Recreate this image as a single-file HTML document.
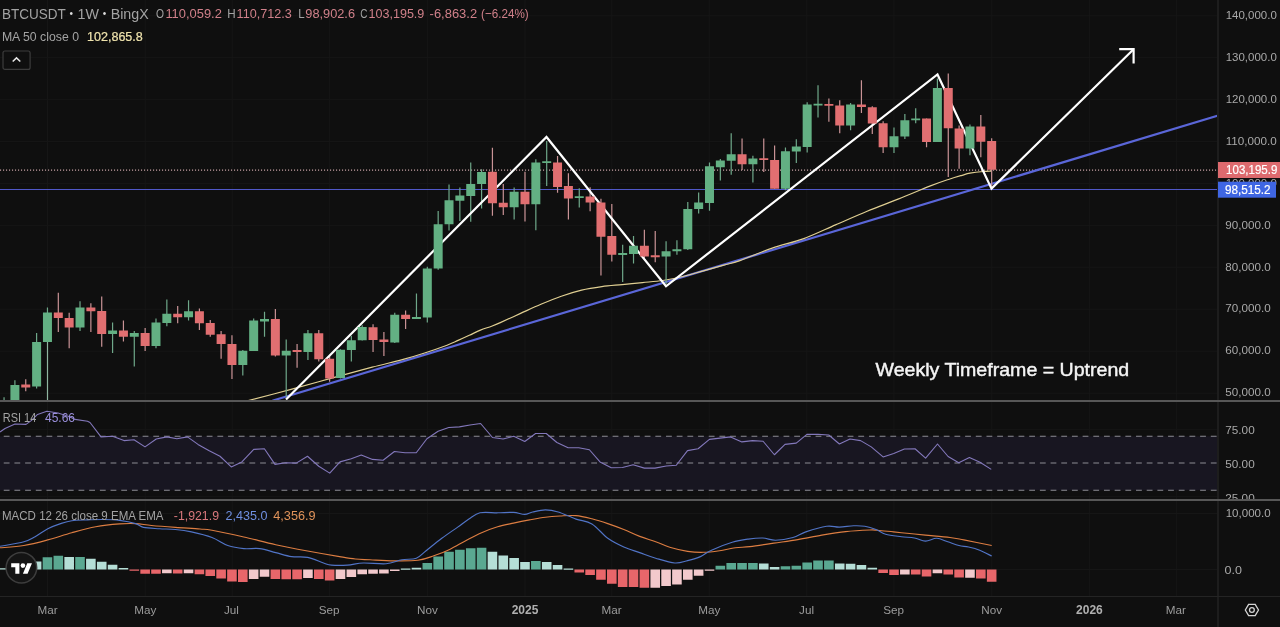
<!DOCTYPE html><html><head><meta charset="utf-8"><title>BTCUSDT 1W BingX</title><style>
html,body{margin:0;padding:0;background:#0f0f0f;}body{width:1280px;height:627px;overflow:hidden;position:relative;font-family:"Liberation Sans", sans-serif;}
svg{position:absolute;left:0;top:0;display:block;will-change:transform;}
svg text{font-family:"Liberation Sans", sans-serif;}
</style></head><body>
<svg width="1280" height="627" viewBox="0 0 1280 627">
<defs><clipPath id="cm"><rect x="0" y="0" width="1217" height="400"/></clipPath><clipPath id="cr"><rect x="0" y="402" width="1217" height="97"/></clipPath><clipPath id="cd"><rect x="0" y="501" width="1217" height="95"/></clipPath></defs>
<rect x="0" y="0" width="1280" height="627" fill="#0f0f0f"/>
<path d="M47.5 0V400M47.5 402V499M47.5 501V596M145.2 0V400M145.2 402V499M145.2 501V596M232.1 0V400M232.1 402V499M232.1 501V596M329.4 0V400M329.4 402V499M329.4 501V596M427.4 0V400M427.4 402V499M427.4 501V596M525 0V400M525 402V499M525 501V596M611.7 0V400M611.7 402V499M611.7 501V596M709.2 0V400M709.2 402V499M709.2 501V596M806.8 0V400M806.8 402V499M806.8 501V596M893.9 0V400M893.9 402V499M893.9 501V596M991.7 0V400M991.7 402V499M991.7 501V596M1089.6 0V400M1089.6 402V499M1089.6 501V596M1176.4 0V400M1176.4 402V499M1176.4 501V596M0 393.1H1217M0 351.17H1217M0 309.24H1217M0 267.32H1217M0 225.39H1217M0 183.46H1217M0 141.53H1217M0 99.6H1217M0 57.68H1217M0 15.75H1217M0 429.6H1217M0 463H1217M0 496.4H1217M0 513.5H1217M0 569.5H1217" stroke="#161616" stroke-width="1" fill="none"/>
<g clip-path="url(#cm)">
<path d="M0 189.5H1217" stroke="#5058c8" stroke-width="1.1"/>
<path d="M0 170.1H1217" stroke="#c9a3a6" stroke-width="1.1" stroke-dasharray="1.1 1.9"/>
<path d="M273 400.5L1218 115.6" stroke="#5a66d8" stroke-width="2.2" stroke-linecap="round"/>
<path d="M248.3 400.5C255.42 398.65 277.12 393.12 291 389.4C304.88 385.68 318.07 381.9 331.6 378.2C345.13 374.5 360.42 370.28 372.2 367.2C383.98 364.12 393.57 362.07 402.3 359.7C411.03 357.33 417.15 355.42 424.6 353C432.05 350.58 441.42 347.3 447 345.2C452.58 343.1 454.38 342.05 458.1 340.4C461.82 338.75 465.58 337.02 469.3 335.3C473.02 333.58 476.68 331.62 480.4 330.1C484.12 328.58 488.28 327.45 491.6 326.2C494.92 324.95 495.47 324.73 500.3 322.6C505.13 320.47 513.83 316.45 520.6 313.4C527.37 310.35 534.12 307.17 540.9 304.3C547.68 301.43 554.52 298.57 561.3 296.2C568.08 293.83 574.83 291.7 581.6 290.1C588.37 288.5 595.13 287.52 601.9 286.6C608.67 285.68 615.43 285.27 622.2 284.6C628.97 283.93 635.73 283.28 642.5 282.6C649.27 281.92 656.03 281.52 662.8 280.5C669.57 279.48 676.33 278.12 683.1 276.5C689.87 274.88 696.62 272.7 703.4 270.8C710.18 268.9 717.7 266.8 723.8 265.1C729.9 263.4 731.93 263.43 740 260.6C748.07 257.77 761.57 251.77 772.2 248.1C782.83 244.43 793.25 242.47 803.8 238.6C814.35 234.73 824.95 229.47 835.5 224.9C846.05 220.33 856.57 215.53 867.1 211.2C877.63 206.87 888.15 203.12 898.7 198.9C909.25 194.68 921.98 189.18 930.4 185.9C938.82 182.62 943.93 180.97 949.2 179.2C954.47 177.43 958.53 176.3 962 175.3C965.47 174.3 966.48 173.83 970 173.2C973.52 172.57 979.52 171.85 983.1 171.5C986.68 171.15 990.1 171.17 991.5 171.1" fill="none" stroke="#e0cf92" stroke-width="1.2"/>
<path d="M4.05 397.3V405M14.9 380.2V405M36.61 332.9V388.4M47.46 307.4V342.1M80.02 301.3V331M112.58 322.4V353M134.28 331V366.4M155.99 318.5V348.2M166.84 299.4V326.2M188.55 300.3V320.4M242.81 350.1V375.4M253.67 318.5V351.1M264.52 311.8V336.7M286.22 339.6V397M307.93 330V360.1M340.49 349.2V378.5M351.34 335.8V361.6M362.2 325.2V340.6M394.75 312.8V343.1M416.46 293.6V318.9M427.31 266.8V322.4M438.17 210.9V269.7M449.02 184.5V230.5M459.87 187.4V220.9M470.73 162.5V221.8M481.58 169.2V208.4M514.14 187.4V219.6M535.84 159.3V230.2M546.7 141.1V186.1M579.26 188.2V207.4M622.67 244.7V282.1M633.52 236.1V263.5M666.08 241.3V284M676.93 240.3V254.7M687.79 202V249.9M698.64 192.5V213.5M709.49 162.4V210.7M720.34 158.9V180.6M731.2 133.3V174.8M752.9 155.7V182.5M785.46 147.4V190.2M796.32 139.3V162.9M807.17 102.2V152.4M818.02 85.3V117.5M850.58 103V130.3M893.99 127.4V152.9M904.85 114V138.9M915.7 108.3V123.2M937.4 78.4V142M969.96 124.6V155.2" stroke="#6fa88a" stroke-width="1.2" fill="none"/>
<path d="M25.75 379.3V391.3M58.31 292.7V331.9M69.17 312.8V348.2M90.87 303.2V331.9M101.72 296.5V346.7M123.43 320.4V341.5M145.14 328.1V351.1M177.69 306.1V323.3M199.4 308.4V330M210.25 320V336.7M221.11 331V358.8M231.96 335.2V378.9M275.37 308.9V356.5M297.08 344V367.8M318.78 330V361.6M329.64 356.3V381.7M373.05 324.3V352.1M383.9 332V355.9M405.61 310.5V329.1M492.43 147.8V215.8M503.28 184.1V215.1M524.99 171.7V221.5M557.55 156V192.8M568.4 173.3V219.6M590.11 187.2V211.2M600.96 198.7V275.4M611.81 204.1V261.6M644.37 229.8V258.1M655.23 230.9V262.3M742.05 138.4V170M763.76 138.4V172M774.61 145.5V188.8M828.88 98.4V121.7M839.73 100.3V133.2M861.43 80.3V112.9M872.29 106.2V134M883.14 121.3V152.9M926.55 118.4V147.2M948.26 73.4V177.1M959.11 125.6V168.7M980.82 115V157.2M991.67 138.3V187.7" stroke="#c99396" stroke-width="1.2" fill="none"/>
<path d="M47.5 342V400" stroke="#8fb5a0" stroke-width="1.2"/>
<polyline points="286,399.5 546.5,137 666,286.3 937.5,74.5 991.5,188.6 1133.6,49.2" fill="none" stroke="#ffffff" stroke-width="2.2" stroke-linejoin="miter" stroke-miterlimit="10"/>
<path d="M1119.2 49.2H1133.6V63.6" fill="none" stroke="#ffffff" stroke-width="2.2" stroke-linecap="butt"/>
<path d="M-0.45 400.5h9v4.5h-9zM10.4 385h9v20h-9zM32.11 341.9h9v44.6h-9zM42.96 312.4h9v29.7h-9zM75.52 307.6h9v19.9h-9zM108.08 330.4h9v3.5h-9zM129.78 332.9h9v3.8h-9zM151.49 322.4h9v23.5h-9zM162.34 313.7h9v9.2h-9zM184.05 311.2h9v6h-9zM238.31 350.7h9v14.4h-9zM249.17 320.4h9v30.7h-9zM260.02 319.1h9v2.3h-9zM281.72 350.7h9v4.8h-9zM303.43 333.3h9v18.7h-9zM335.99 349.8h9v28.1h-9zM346.84 340.2h9v9.9h-9zM357.7 327.1h9v13.1h-9zM390.25 314.7h9v27.8h-9zM411.96 317h9v1.9h-9zM422.81 268.4h9v49.2h-9zM433.67 224.3h9v44.1h-9zM444.52 200.2h9v24.1h-9zM455.37 195.4h9v5.4h-9zM466.23 184.1h9v11.9h-9zM477.08 172h9v12.1h-9zM509.64 191.8h9v15.4h-9zM531.34 162.5h9v41.8h-9zM542.2 161.25h9v1.8h-9zM574.76 196.2h9v1.8h-9zM618.17 253.1h9v1.8h-9zM629.02 245.7h9v8.2h-9zM661.58 251.3h9v5.3h-9zM672.43 249.3h9v2h-9zM683.29 209.1h9v40.2h-9zM694.14 202.6h9v6.5h-9zM704.99 166.2h9v36.8h-9zM715.84 160.5h9v6.7h-9zM726.7 154.3h9v6.5h-9zM748.4 158.5h9v5.8h-9zM780.96 151.3h9v37.5h-9zM791.82 146.6h9v4.8h-9zM802.67 104.5h9v42.5h-9zM813.52 103.75h9v1.8h-9zM846.08 104.5h9v21.1h-9zM889.49 136.2h9v11h-9zM900.35 120.3h9v16.3h-9zM911.2 118.4h9v1.9h-9zM932.9 88h9v54h-9zM965.46 126.5h9v22h-9z" fill="#63b083"/>
<path d="M21.25 384.6h9v2.9h-9zM53.81 312.4h9v5.6h-9zM64.67 318h9v9.5h-9zM86.37 307.6h9v3.6h-9zM97.22 310.9h9v23h-9zM118.93 330.4h9v6.3h-9zM140.64 332.9h9v13h-9zM173.19 313.7h9v3.5h-9zM194.9 311.2h9v12.1h-9zM205.75 322.9h9v11.9h-9zM216.61 334.2h9v9.8h-9zM227.46 344h9v21.1h-9zM270.87 319.1h9v36.4h-9zM292.58 350.1h9v1.9h-9zM314.28 333.3h9v26h-9zM325.14 358.8h9v19.7h-9zM368.55 327.2h9v12.8h-9zM379.4 339.6h9v2.3h-9zM401.11 314.7h9v4.2h-9zM487.93 171.7h9v31.6h-9zM498.78 202.7h9v4.5h-9zM520.49 191.8h9v12.5h-9zM553.05 162.5h9v24.5h-9zM563.9 186.1h9v12.4h-9zM585.61 196.4h9v6.2h-9zM596.46 202.6h9v34.1h-9zM607.31 236.1h9v18.6h-9zM639.87 245.7h9v10.9h-9zM650.73 255.2h9v2h-9zM737.55 154.3h9v10h-9zM759.26 158.2h9v1.9h-9zM770.11 160.1h9v28.7h-9zM824.38 103.95h9v1.8h-9zM835.23 105.4h9v20.2h-9zM856.93 104.5h9v2.4h-9zM867.79 107.2h9v16.2h-9zM878.64 123.2h9v24h-9zM922.05 118.4h9v23.6h-9zM943.76 88h9v40.2h-9zM954.61 128.4h9v20.1h-9zM976.32 126.5h9v15.3h-9zM987.17 141.1h9v28.6h-9z" fill="#e16f71"/>
</g>
<text x="875.6" y="376.4" font-size="19" fill="#f4f4f4" stroke="#f4f4f4" stroke-width="0.45" textLength="253.6" lengthAdjust="spacingAndGlyphs">Weekly Timeframe = Uptrend</text>
<g clip-path="url(#cr)">
<rect x="0" y="436.25" width="1217" height="54" fill="#181621"/>
<path d="M0 436.25H1217M0 463H1217M0 490.25H1217" stroke="#8c8c94" stroke-width="1" stroke-dasharray="5.8 4.882" stroke-dashoffset="6.932"/>
<polyline points="0,432 5,428.5 15,424 26,424.4 31.25,420.6 37.5,414.4 46.9,411.25 58,413 69,416.5 75,419.4 87.5,421.25 90,422.5 101,436.9 112.5,436.25 124,440.6 134,439.75 145,446.9 156.25,439 166.9,436.9 176.9,438.75 187.5,436.9 198,444.4 208.75,450.6 220,456.25 231.25,466.9 241.9,461.9 253.75,449.4 264.4,448.75 275,464.4 285.6,462.75 296.25,463.1 307.5,456.25 318.75,466.25 329.75,473.1 340,461.9 351.25,458.75 361.25,455 372.5,459.4 383.1,460.25 394.4,451.5 405,452.75 416.25,452.75 426.9,438.75 438.1,431.25 448.75,427.5 459.4,426.9 470,425 480.6,423.5 492.5,437.5 503.1,439 513.75,436.25 524.75,441.5 535.6,433.5 546.25,433.5 556.9,442.5 568.1,447.75 578.75,447.75 589.4,449.75 600,461.9 611.25,467.75 622.5,467.5 633.1,464.75 644.4,468.1 655,468.1 666.25,466 676.25,465.25 687.5,450.6 698.1,448.75 709.4,439.4 720,438.1 730.6,436.9 741.9,441.9 752.5,440.6 763.1,441.25 774.4,454.75 785,444.4 796.25,443.1 806.9,434.4 818.1,434.4 828.75,435 839.4,444 850,439 860.6,440.6 871.25,446.9 883.1,456.9 893.75,453.5 904.4,449 915,448.75 925.6,458.1 937.5,444 948.1,456.5 958.75,462.75 969.4,457.5 980,462.25 991.25,469.4" fill="none" stroke="#8378bb" stroke-width="1.1" stroke-linejoin="round"/>
</g>
<g clip-path="url(#cd)">
<path d="M42.66 557.3h9.6v12.2h-9.6zM53.51 555.8h9.6v13.7h-9.6zM75.22 557h9.6v12.5h-9.6zM422.51 563h9.6v6.5h-9.6zM433.37 556.6h9.6v12.9h-9.6zM444.22 551.8h9.6v17.7h-9.6zM455.07 549.8h9.6v19.7h-9.6zM465.93 548.2h9.6v21.3h-9.6zM476.78 547.8h9.6v21.7h-9.6zM531.04 561.1h9.6v8.4h-9.6zM715.54 565.7h9.6v3.8h-9.6zM726.4 563h9.6v6.5h-9.6zM737.25 563h9.6v6.5h-9.6zM748.1 563h9.6v6.5h-9.6zM780.66 566.2h9.6v3.3h-9.6zM791.52 565.7h9.6v3.8h-9.6zM802.37 562.5h9.6v7h-9.6zM813.22 560.6h9.6v8.9h-9.6zM824.08 560.6h9.6v8.9h-9.6z" fill="#5aa891"/>
<path d="M-0.75 568.3h9.6v1.2h-9.6zM10.1 565h9.6v4.5h-9.6zM20.95 563h9.6v6.5h-9.6zM31.81 561.5h9.6v8h-9.6zM64.37 557h9.6v12.5h-9.6zM86.07 558.7h9.6v10.8h-9.6zM96.92 561.8h9.6v7.7h-9.6zM107.78 564.8h9.6v4.7h-9.6zM118.63 567.9h9.6v1.6h-9.6zM400.81 568.6h9.6v1.2h-9.6zM411.66 567.8h9.6v1.7h-9.6zM487.63 551.8h9.6v17.7h-9.6zM498.48 555.5h9.6v14h-9.6zM509.34 557.9h9.6v11.6h-9.6zM520.19 561.9h9.6v7.6h-9.6zM541.9 561.9h9.6v7.6h-9.6zM552.75 565h9.6v4.5h-9.6zM563.6 568.6h9.6v1.2h-9.6zM758.96 563.5h9.6v6h-9.6zM769.81 567h9.6v2.5h-9.6zM834.93 563.5h9.6v6h-9.6zM845.78 563.8h9.6v5.7h-9.6zM856.63 565h9.6v4.5h-9.6zM867.49 567.8h9.6v1.7h-9.6z" fill="#b5ded6"/>
<path d="M129.48 569.5h9.6v1.2h-9.6zM140.34 569.5h9.6v4.2h-9.6zM151.19 569.5h9.6v4.2h-9.6zM172.89 569.5h9.6v3.9h-9.6zM194.6 569.5h9.6v4.7h-9.6zM205.45 569.5h9.6v6.5h-9.6zM216.31 569.5h9.6v8.9h-9.6zM227.16 569.5h9.6v12h-9.6zM238.01 569.5h9.6v12.5h-9.6zM270.57 569.5h9.6v9.4h-9.6zM281.42 569.5h9.6v9.8h-9.6zM292.28 569.5h9.6v9.8h-9.6zM313.98 569.5h9.6v9.5h-9.6zM324.84 569.5h9.6v11h-9.6zM574.46 569.5h9.6v3.1h-9.6zM585.31 569.5h9.6v5.5h-9.6zM596.16 569.5h9.6v10.2h-9.6zM607.01 569.5h9.6v14.2h-9.6zM617.87 569.5h9.6v17.4h-9.6zM628.72 569.5h9.6v17.4h-9.6zM639.57 569.5h9.6v18.2h-9.6zM878.34 569.5h9.6v3.5h-9.6zM889.19 569.5h9.6v5.5h-9.6zM910.9 569.5h9.6v5.1h-9.6zM921.75 569.5h9.6v7.1h-9.6zM943.46 569.5h9.6v5.1h-9.6zM954.31 569.5h9.6v7.9h-9.6zM976.02 569.5h9.6v9h-9.6zM986.87 569.5h9.6v12.2h-9.6z" fill="#e8666a"/>
<path d="M162.04 569.5h9.6v3.7h-9.6zM183.75 569.5h9.6v3.7h-9.6zM248.87 569.5h9.6v9.5h-9.6zM259.72 569.5h9.6v7.2h-9.6zM303.13 569.5h9.6v8.6h-9.6zM335.69 569.5h9.6v9.5h-9.6zM346.54 569.5h9.6v7.4h-9.6zM357.4 569.5h9.6v4.7h-9.6zM368.25 569.5h9.6v4.2h-9.6zM379.1 569.5h9.6v3.9h-9.6zM389.95 569.5h9.6v1.5h-9.6zM650.43 569.5h9.6v18.2h-9.6zM661.28 569.5h9.6v16.6h-9.6zM672.13 569.5h9.6v15h-9.6zM682.99 569.5h9.6v10.2h-9.6zM693.84 569.5h9.6v6.3h-9.6zM704.69 569.5h9.6v1.2h-9.6zM900.05 569.5h9.6v5.1h-9.6zM932.61 569.5h9.6v3.7h-9.6zM965.16 569.5h9.6v8.2h-9.6z" fill="#f2c9cc"/>
<path d="M0 547.8C3.98 547.42 15.93 546.82 23.9 545.5C31.87 544.18 39.82 542.03 47.8 539.9C55.78 537.77 63.82 534.88 71.8 532.7C79.78 530.52 87.73 528.27 95.7 526.8C103.67 525.33 112.95 524.43 119.6 523.9C126.25 523.37 130.28 523.33 135.6 523.6C140.92 523.87 144.87 524.87 151.5 525.5C158.13 526.13 167.32 526.82 175.4 527.4C183.48 527.98 193.9 528.52 200 529C206.1 529.48 204.7 528.97 212 530.3C219.3 531.63 233.18 534.6 243.8 537C254.42 539.4 265.07 542.37 275.7 544.7C286.33 547.03 296.97 549.02 307.6 551C318.23 552.98 331.53 555.27 339.5 556.6C347.47 557.93 350.32 558.47 355.4 559C360.48 559.53 363.57 559.48 370 559.8C376.43 560.12 386.03 560.82 394 560.9C401.97 560.98 411.17 561.15 417.8 560.3C424.43 559.45 428.48 557.62 433.8 555.8C439.12 553.98 444.38 551.92 449.7 549.4C455.02 546.88 460.38 543.48 465.7 540.7C471.02 537.92 476.28 535.02 481.6 532.7C486.92 530.38 492.28 528.4 497.6 526.8C502.92 525.2 508.18 524.25 513.5 523.1C518.82 521.95 524.18 520.88 529.5 519.9C534.82 518.92 540.32 517.85 545.4 517.2C550.48 516.55 554.9 516.27 560 516C565.1 515.73 570.68 515.13 576 515.6C581.32 516.07 586.6 517.47 591.9 518.8C597.2 520.13 602.48 521.82 607.8 523.6C613.12 525.38 618.48 527.37 623.8 529.5C629.12 531.63 634.38 534.35 639.7 536.4C645.02 538.45 650.38 539.9 655.7 541.8C661.02 543.7 666.28 546.2 671.6 547.8C676.92 549.4 682.28 550.65 687.6 551.4C692.92 552.15 698.18 552.42 703.5 552.3C708.82 552.18 714.18 551.45 719.5 550.7C724.82 549.95 730.32 548.48 735.4 547.8C740.48 547.12 743.58 547.38 750 546.6C756.42 545.82 765.93 544.27 773.9 543.1C781.87 541.93 789.82 540.93 797.8 539.6C805.78 538.27 813.82 536.43 821.8 535.1C829.78 533.77 837.73 532.45 845.7 531.6C853.67 530.75 864.28 530.22 869.6 530C874.92 529.78 873.62 529.98 877.6 530.3C881.58 530.62 888.18 531.37 893.5 531.9C898.82 532.43 904.18 532.97 909.5 533.5C914.82 534.03 918.65 534.43 925.4 535.1C932.15 535.77 943.6 536.7 950 537.5C956.4 538.3 956.85 538.57 963.8 539.9C970.75 541.23 987.05 544.57 991.7 545.5" fill="none" stroke="#dc7d42" stroke-width="1.15"/>
<path d="M0 546.3C3.98 545.55 18.05 543.4 23.9 541.8C29.75 540.2 31.12 538.88 35.1 536.7C39.08 534.52 43.55 530.88 47.8 528.7C52.05 526.52 56.6 524.93 60.6 523.6C64.6 522.27 67.28 521.32 71.8 520.7C76.32 520.08 82.38 520.1 87.7 519.9C93.02 519.7 98.38 519.42 103.7 519.5C109.02 519.58 114.28 519.72 119.6 520.4C124.92 521.08 131.62 522.43 135.6 523.6C139.58 524.77 139.52 526.55 143.5 527.4C147.48 528.25 154.18 528.35 159.5 528.7C164.82 529.05 170.08 528.97 175.4 529.5C180.72 530.03 185.3 530.57 191.4 531.9C197.5 533.23 205.93 535.23 212 537.5C218.07 539.77 222.5 543.65 227.8 545.5C233.1 547.35 238.48 548.08 243.8 548.6C249.12 549.12 254.38 547.93 259.7 548.6C265.02 549.27 270.38 551.27 275.7 552.6C281.02 553.93 286.28 555.8 291.6 556.6C296.92 557.4 302.28 556.33 307.6 557.4C312.92 558.47 319.52 561.72 323.5 563C327.48 564.28 327.5 564.75 331.5 565.1C335.5 565.45 342.18 565.45 347.5 565.1C352.82 564.75 356.98 563.22 363.4 563C369.82 562.78 379.58 564.33 386 563.8C392.42 563.27 396.85 560.73 401.9 559.8C406.95 558.87 412.32 559.67 416.3 558.2C420.28 556.73 421.55 554.32 425.8 551C430.05 547.68 436.48 542.28 441.8 538.3C447.12 534.32 453.18 530.3 457.7 527.1C462.22 523.9 465.18 521.48 468.9 519.1C472.62 516.72 475.22 513.85 480 512.8C484.78 511.75 492.02 512.87 497.6 512.8C503.18 512.73 508.98 512.13 513.5 512.4C518.02 512.67 521.5 514.47 524.7 514.4C527.9 514.33 529.25 512.75 532.7 512C536.15 511.25 541.15 509.9 545.4 509.9C549.65 509.9 553.1 510.47 558.2 512C563.3 513.53 570.38 517.12 576 519.1C581.62 521.08 586.6 520.7 591.9 523.9C597.2 527.1 602.48 534.45 607.8 538.3C613.12 542.15 618.48 544.62 623.8 547C629.12 549.38 634.38 550.73 639.7 552.6C645.02 554.47 649.85 556.47 655.7 558.2C661.55 559.93 669.48 562.6 674.8 563C680.12 563.4 683.33 561.67 687.6 560.6C691.87 559.53 696.42 558.33 700.4 556.6C704.38 554.87 706.2 552.58 711.5 550.2C716.8 547.82 726.08 544.15 732.2 542.3C738.32 540.45 743.1 539.82 748.2 539.1C753.3 538.38 758.25 537.82 762.8 538C767.35 538.18 770.47 540.28 775.5 540.2C780.53 540.12 787.95 538.88 793 537.5C798.05 536.12 800.2 533.77 805.8 531.9C811.4 530.03 821.02 527.1 826.6 526.3C832.18 525.5 834.78 527.18 839.3 527.1C843.82 527.02 849.45 525.93 853.7 525.8C857.95 525.67 861.08 525.68 864.8 526.3C868.52 526.92 872.53 528.17 876 529.5C879.47 530.83 881.35 533.1 885.6 534.3C889.85 535.5 896.7 536.08 901.5 536.7C906.3 537.32 910.4 537.27 914.4 538C918.4 538.73 921.78 541.05 925.5 541.1C929.22 541.15 932.98 538.18 936.7 538.3C940.42 538.42 944.08 540.6 947.8 541.8C951.52 543 955.53 544.63 959 545.5C962.47 546.37 965.15 546.22 968.6 547C972.05 547.78 975.85 548.68 979.7 550.2C983.55 551.72 989.7 555.12 991.7 556.1" fill="none" stroke="#5174c6" stroke-width="1.15"/>
</g>
<circle cx="21.4" cy="567.7" r="15.3" fill="#141414" stroke="#3d3d3d" stroke-width="1.5"/>
<g transform="translate(11.2 560.9) scale(0.585)" fill="#ffffff"><path d="M14 22H7V11H0V4h14v18zM28 22h-8l7.5-18h8L28 22z"/><circle cx="20" cy="8" r="4"/></g>
<rect x="1217" y="0" width="2" height="627" fill="#1d1d1d"/>
<rect x="0" y="400" width="1280" height="2" fill="#575757"/>
<rect x="0" y="499" width="1280" height="2" fill="#575757"/>
<rect x="0" y="596" width="1280" height="1" fill="#242424"/>
<text x="1225.7" y="19" font-size="11.8" fill="#a9a9a9" textLength="51.1" lengthAdjust="spacingAndGlyphs">140,000.0</text>
<text x="1225.7" y="60.93" font-size="11.8" fill="#a9a9a9" textLength="51.1" lengthAdjust="spacingAndGlyphs">130,000.0</text>
<text x="1225.7" y="102.85" font-size="11.8" fill="#a9a9a9" textLength="51.1" lengthAdjust="spacingAndGlyphs">120,000.0</text>
<text x="1225.7" y="144.78" font-size="11.8" fill="#a9a9a9" textLength="51.1" lengthAdjust="spacingAndGlyphs">110,000.0</text>
<text x="1225.7" y="186.71" font-size="11.8" fill="#a9a9a9" textLength="51.1" lengthAdjust="spacingAndGlyphs">100,000.0</text>
<text x="1225.25" y="228.64" font-size="11.8" fill="#a9a9a9" textLength="45.4" lengthAdjust="spacingAndGlyphs">90,000.0</text>
<text x="1225.25" y="270.57" font-size="11.8" fill="#a9a9a9" textLength="45.4" lengthAdjust="spacingAndGlyphs">80,000.0</text>
<text x="1225.25" y="312.49" font-size="11.8" fill="#a9a9a9" textLength="45.4" lengthAdjust="spacingAndGlyphs">70,000.0</text>
<text x="1225.25" y="354.42" font-size="11.8" fill="#a9a9a9" textLength="45.4" lengthAdjust="spacingAndGlyphs">60,000.0</text>
<text x="1225.25" y="396.35" font-size="11.8" fill="#a9a9a9" textLength="45.4" lengthAdjust="spacingAndGlyphs">50,000.0</text>
<rect x="1218" y="162" width="62" height="16" fill="#dd6a6e"/>
<text x="1226.1" y="174.3" font-size="12" fill="#ffffff" stroke="#ffffff" stroke-width="0.2" textLength="51.2" lengthAdjust="spacingAndGlyphs">103,195.9</text>
<rect x="1218" y="181.7" width="58" height="16" fill="#3f66e3"/>
<text x="1224.9" y="193.9" font-size="12" fill="#ffffff" stroke="#ffffff" stroke-width="0.2" textLength="45.6" lengthAdjust="spacingAndGlyphs">98,515.2</text>
<defs><clipPath id="ra"><rect x="1219" y="402" width="61" height="97"/></clipPath></defs>
<g clip-path="url(#ra)">
<text x="1225.25" y="433.5" font-size="11.8" fill="#a9a9a9" textLength="29.45" lengthAdjust="spacingAndGlyphs">75.00</text>
<text x="1225.25" y="467.5" font-size="11.8" fill="#a9a9a9" textLength="29.45" lengthAdjust="spacingAndGlyphs">50.00</text>
<text x="1225.25" y="501.9" font-size="11.8" fill="#a9a9a9" textLength="29.45" lengthAdjust="spacingAndGlyphs">25.00</text>
</g>
<text x="1225.7" y="517" font-size="11.8" fill="#a9a9a9" textLength="45" lengthAdjust="spacingAndGlyphs">10,000.0</text>
<text x="1224.6" y="574.15" font-size="11.8" fill="#a9a9a9" textLength="17.4" lengthAdjust="spacingAndGlyphs">0.0</text>
<text x="47.5" y="614" font-size="11.7" fill="#9c9c9c" text-anchor="middle">Mar</text>
<text x="145.2" y="614" font-size="11.7" fill="#9c9c9c" text-anchor="middle">May</text>
<text x="231.5" y="614" font-size="11.7" fill="#9c9c9c" text-anchor="middle">Jul</text>
<text x="329.2" y="614" font-size="11.7" fill="#9c9c9c" text-anchor="middle">Sep</text>
<text x="427.4" y="614" font-size="11.7" fill="#9c9c9c" text-anchor="middle">Nov</text>
<text x="525" y="614" font-size="12" fill="#b0b0b0" text-anchor="middle" font-weight="bold">2025</text>
<text x="611.5" y="614" font-size="11.7" fill="#9c9c9c" text-anchor="middle">Mar</text>
<text x="709.2" y="614" font-size="11.7" fill="#9c9c9c" text-anchor="middle">May</text>
<text x="806.6" y="614" font-size="11.7" fill="#9c9c9c" text-anchor="middle">Jul</text>
<text x="893.7" y="614" font-size="11.7" fill="#9c9c9c" text-anchor="middle">Sep</text>
<text x="991.6" y="614" font-size="11.7" fill="#9c9c9c" text-anchor="middle">Nov</text>
<text x="1089.4" y="614" font-size="12" fill="#b0b0b0" text-anchor="middle" font-weight="bold">2026</text>
<text x="1175.8" y="614" font-size="11.7" fill="#9c9c9c" text-anchor="middle">Mar</text>
<g fill="none" stroke="#d4d4d4" stroke-width="1.3"><path d="M1245.3 610L1248.6 604.3H1255.2L1258.5 610L1255.2 615.7H1248.6Z"/><circle cx="1251.9" cy="610" r="2.4"/></g>
<text x="1.9" y="18.75" font-size="15" fill="#a3a3a3" textLength="63.8" lengthAdjust="spacingAndGlyphs">BTCUSDT</text>
<text x="69.5" y="17.3" font-size="10" fill="#dedede">•</text>
<text x="77.6" y="18.75" font-size="15" fill="#a3a3a3" textLength="21.4" lengthAdjust="spacingAndGlyphs">1W</text>
<text x="102.65" y="17.3" font-size="10" fill="#dedede">•</text>
<text x="110.65" y="18.75" font-size="15" fill="#a3a3a3" textLength="38.05" lengthAdjust="spacingAndGlyphs">BingX</text>
<text x="156" y="17.5" font-size="13" fill="#a3a3a3" textLength="8" lengthAdjust="spacingAndGlyphs">O</text>
<text x="165.4" y="17.5" font-size="13" fill="#d0808a" textLength="56.45" lengthAdjust="spacingAndGlyphs">110,059.2</text>
<text x="227.2" y="17.5" font-size="13" fill="#a3a3a3" textLength="8.4" lengthAdjust="spacingAndGlyphs">H</text>
<text x="236.6" y="17.5" font-size="13" fill="#d0808a" textLength="55.25" lengthAdjust="spacingAndGlyphs">110,712.3</text>
<text x="298.15" y="17.5" font-size="13" fill="#a3a3a3" textLength="6.45" lengthAdjust="spacingAndGlyphs">L</text>
<text x="305.3" y="17.5" font-size="13" fill="#d0808a" textLength="49.7" lengthAdjust="spacingAndGlyphs">98,902.6</text>
<text x="360.3" y="17.5" font-size="13" fill="#a3a3a3" textLength="7.2" lengthAdjust="spacingAndGlyphs">C</text>
<text x="368.5" y="17.5" font-size="13" fill="#d0808a" textLength="55.85" lengthAdjust="spacingAndGlyphs">103,195.9</text>
<text x="429.6" y="17.5" font-size="13" fill="#d0808a" textLength="47.5" lengthAdjust="spacingAndGlyphs">-6,863.2</text>
<text x="481.1" y="17.5" font-size="13" fill="#d0808a" textLength="47.6" lengthAdjust="spacingAndGlyphs">(−6.24%)</text>
<text x="1.9" y="40.6" font-size="12.2" fill="#a3a3a3" textLength="77.1" lengthAdjust="spacingAndGlyphs">MA 50 close 0</text>
<text x="87" y="40.7" font-size="12.8" fill="#efe3ad" textLength="55.8" lengthAdjust="spacingAndGlyphs" stroke="#efe3ad" stroke-width="0.2">102,865.8</text>
<rect x="3" y="51" width="27.1" height="18.4" rx="2" fill="#0f0f0f" stroke="#3c3c3c" stroke-width="1.2"/>
<path d="M12.7 61.5L16.5 57.9L20.3 61.5" fill="none" stroke="#e6e6e6" stroke-width="1.5"/>
<text x="2.8" y="421.6" font-size="13" fill="#a3a3a3" textLength="33.45" lengthAdjust="spacingAndGlyphs">RSI 14</text>
<text x="45" y="421.6" font-size="13" fill="#9b90dc" textLength="30" lengthAdjust="spacingAndGlyphs">45.66</text>
<text x="2" y="520.1" font-size="12.4" fill="#a3a3a3" textLength="161.5" lengthAdjust="spacingAndGlyphs">MACD 12 26 close 9 EMA EMA</text>
<text x="173.8" y="520.1" font-size="12.4" fill="#d9787c" textLength="45.2" lengthAdjust="spacingAndGlyphs">-1,921.9</text>
<text x="225.5" y="520.1" font-size="12.4" fill="#6f8fe0" textLength="41.9" lengthAdjust="spacingAndGlyphs">2,435.0</text>
<text x="273.3" y="520.1" font-size="12.4" fill="#e0935a" textLength="42.3" lengthAdjust="spacingAndGlyphs">4,356.9</text>
</svg></body></html>
